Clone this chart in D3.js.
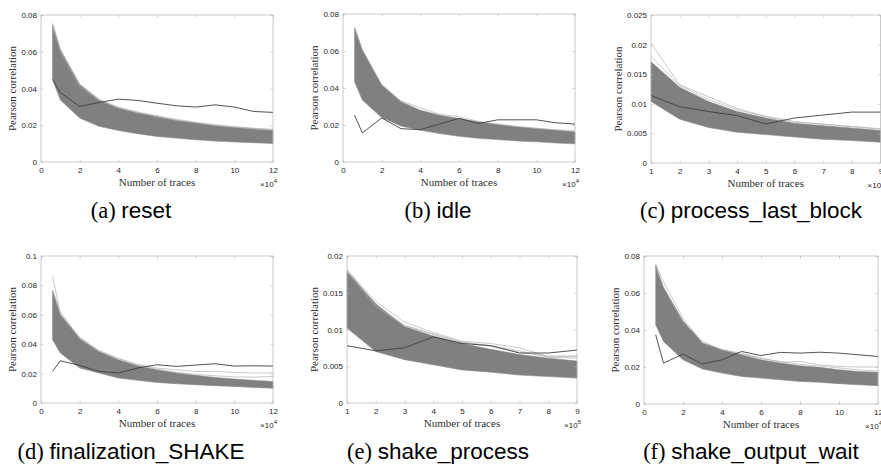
<!DOCTYPE html>
<html>
<head>
<meta charset="utf-8">
<script src="https://cdn.jsdelivr.net/npm/d3@7"></script>
<style>
  body { margin: 0; background: #fff; }
  svg { display: block; }
  .tick text { font-family: "Liberation Sans", Arial, sans-serif; font-size: 8px; fill: #262626; }
  .tick line { stroke: #b4b4b4; stroke-width: 0.6; }
  .axis-label { font-family: "Liberation Serif", "Times New Roman", serif; font-size: 11px; fill: #303030; }
  .caption { font-size: 22.5px; fill: #000; }
</style>
</head>
<body>
<svg id="fig" width="881" height="464"></svg>
<script>
// number of traces, in units of the axis multiplier (x10^4 or x10^5)
const xShort = [0.6, 1, 2, 3, 4, 5, 6, 7, 8, 9, 10, 11, 12];
const xLong = [1, 2, 3, 4, 5, 6, 7, 8, 9];

// (a) reset: envelope of the wrong key guesses, outlier guesses, correct key
const resetUpper = [0.0746, 0.061, 0.042, 0.0338, 0.0293, 0.0266, 0.0248, 0.0226, 0.0212, 0.0197, 0.0188, 0.0179, 0.0172];
const resetLower = [0.0447, 0.0338, 0.0239, 0.0194, 0.0172, 0.0154, 0.0139, 0.013, 0.0121, 0.0114, 0.0109, 0.0105, 0.0101];
const resetOutliers = [
  [0.0755, 0.0615, 0.0425, 0.0342, 0.0298, 0.0272, 0.0252, 0.0232, 0.0216, 0.0203, 0.0193, 0.0184, 0.0178],
  [0.073, 0.06, 0.041, 0.0335, 0.0296, 0.027, 0.0245, 0.0228, 0.0214, 0.02, 0.019, 0.0182, 0.0175]
];
const resetKey = [0.045, 0.0378, 0.0302, 0.0324, 0.0342, 0.0335, 0.032, 0.0306, 0.0299, 0.0311, 0.0299, 0.0275, 0.027];

// (b) idle
const idleUpper = [0.0724, 0.0606, 0.0416, 0.0326, 0.028, 0.0253, 0.0235, 0.0217, 0.0203, 0.019, 0.0181, 0.0172, 0.0163];
const idleLower = [0.0434, 0.0335, 0.024, 0.0194, 0.0172, 0.0154, 0.0139, 0.0128, 0.0121, 0.0114, 0.0109, 0.0103, 0.0098];
const idleOutliers = [
  [0.073, 0.0605, 0.042, 0.033, 0.0293, 0.0258, 0.0245, 0.022, 0.0205, 0.0192, 0.0183, 0.0175, 0.0168]
];
const idleKey = [0.0253, 0.0157, 0.0238, 0.018, 0.0175, 0.0205, 0.0236, 0.0208, 0.0228, 0.0228, 0.0228, 0.0212, 0.0205];

// (c) process_last_block
const plbUpper = [0.0171, 0.0128, 0.0104, 0.0087, 0.0076, 0.0067, 0.0063, 0.0059, 0.0055];
const plbLower = [0.0104, 0.0074, 0.006, 0.0052, 0.0048, 0.0044, 0.004, 0.0038, 0.0035];
const plbOutliers = [
  [0.0202, 0.0132, 0.0112, 0.0092, 0.0079, 0.007, 0.0065, 0.0062, 0.0058],
  [0.018, 0.0131, 0.0107, 0.009, 0.0078, 0.0069, 0.0066, 0.0061, 0.0057]
];
const plbKey = [0.0114, 0.0095, 0.0087, 0.008, 0.0066, 0.0076, 0.0081, 0.0086, 0.0086];

// (d) finalization_SHAKE
const finUpper = [0.0762, 0.060, 0.044, 0.035, 0.0294, 0.0253, 0.0226, 0.0204, 0.0188, 0.0174, 0.0163, 0.0154, 0.0147];
const finLower = [0.043, 0.034, 0.0238, 0.0204, 0.017, 0.0154, 0.014, 0.0131, 0.0124, 0.0118, 0.0113, 0.0106, 0.01];
const finOutliers = [
  [0.086, 0.061, 0.0448, 0.0357, 0.0305, 0.0262, 0.0238, 0.0226, 0.0215, 0.0215, 0.0208, 0.0204, 0.0204],
  [0.077, 0.062, 0.0435, 0.0352, 0.03, 0.0258, 0.023, 0.021, 0.0195, 0.0185, 0.0178, 0.0176, 0.018]
];
const finKey = [0.0215, 0.0287, 0.0256, 0.0215, 0.0204, 0.0238, 0.026, 0.0249, 0.0258, 0.0267, 0.0251, 0.0253, 0.0251];

// (e) shake_process
const spUpper = [0.0179, 0.0135, 0.0104, 0.0091, 0.0081, 0.0073, 0.0066, 0.0061, 0.0057];
const spLower = [0.0102, 0.007, 0.0059, 0.0052, 0.0045, 0.0042, 0.0038, 0.0036, 0.0034];
const spOutliers = [
  [0.0181, 0.0138, 0.011, 0.0096, 0.0084, 0.0081, 0.0075, 0.0063, 0.0063],
  [0.0182, 0.0132, 0.0106, 0.0094, 0.0083, 0.0078, 0.0071, 0.0062, 0.0061],
  [0.0178, 0.0131, 0.0105, 0.0093, 0.0082, 0.0077, 0.0069, 0.0064, 0.0064]
];
const spKey = [0.0078, 0.0071, 0.0075, 0.009, 0.0081, 0.0078, 0.0068, 0.0068, 0.0072];

// (f) shake_output_wait
const sowUpper = [0.075, 0.063, 0.045, 0.033, 0.0293, 0.0266, 0.0239, 0.0221, 0.0207, 0.0198, 0.0185, 0.0176, 0.0171];
const sowLower = [0.0428, 0.0338, 0.0239, 0.0189, 0.0167, 0.0149, 0.014, 0.0131, 0.0122, 0.0117, 0.011, 0.0104, 0.0099];
const sowOutliers = [
  [0.076, 0.066, 0.0464, 0.033, 0.0295, 0.027, 0.025, 0.0225, 0.023, 0.0212, 0.0203, 0.02, 0.02],
  [0.074, 0.063, 0.044, 0.034, 0.029, 0.0275, 0.0245, 0.023, 0.0215, 0.0205, 0.0195, 0.0185, 0.0178]
];
const sowKey = [0.0374, 0.0221, 0.027, 0.0216, 0.0239, 0.0284, 0.0262, 0.0279, 0.0275, 0.028, 0.0275, 0.0266, 0.0257];

// axis settings
const shortDomain = [0, 12], shortTicks = [0, 2, 4, 6, 8, 10, 12];
const longDomain = [1, 9], longTicks = [1, 2, 3, 4, 5, 6, 7, 8, 9];

const panels = [
  { tag: "(a)", name: "reset", x: xShort, xDomain: shortDomain, xTicks: shortTicks, exp: "4",
    yTicks: [0, 0.02, 0.04, 0.06, 0.08], upper: resetUpper, lower: resetLower, outliers: resetOutliers, key: resetKey,
    box: [41, 15, 232, 147], cap: [131, 218] },
  { tag: "(b)", name: "idle", x: xShort, xDomain: shortDomain, xTicks: shortTicks, exp: "4",
    yTicks: [0, 0.02, 0.04, 0.06, 0.08], upper: idleUpper, lower: idleLower, outliers: idleOutliers, key: idleKey,
    box: [343, 14, 232, 148], cap: [438, 218] },
  { tag: "(c)", name: "process_last_block", x: xLong, xDomain: longDomain, xTicks: longTicks, exp: "5",
    yTicks: [0, 0.005, 0.01, 0.015, 0.02, 0.025], upper: plbUpper, lower: plbLower, outliers: plbOutliers, key: plbKey,
    box: [651, 15, 229.5, 148], cap: [751, 218] },
  { tag: "(d)", name: "finalization_SHAKE", x: xShort, xDomain: shortDomain, xTicks: shortTicks, exp: "4",
    yTicks: [0, 0.02, 0.04, 0.06, 0.08, 0.1], upper: finUpper, lower: finLower, outliers: finOutliers, key: finKey,
    box: [41, 256, 232, 147], cap: [131, 459] },
  { tag: "(e)", name: "shake_process", x: xLong, xDomain: longDomain, xTicks: longTicks, exp: "5",
    yTicks: [0, 0.005, 0.01, 0.015, 0.02], upper: spUpper, lower: spLower, outliers: spOutliers, key: spKey,
    box: [347, 256, 230, 147], cap: [438, 459] },
  { tag: "(f)", name: "shake_output_wait", x: xShort, xDomain: shortDomain, xTicks: shortTicks, exp: "4",
    yTicks: [0, 0.02, 0.04, 0.06, 0.08], upper: sowUpper, lower: sowLower, outliers: sowOutliers, key: sowKey,
    box: [644, 256, 234, 148], cap: [751, 459] }
];

const svg = d3.select("#fig");
const fmt = d3.format("~g");

panels.forEach(p => drawPanel(p));

function drawPanel(p) {
  let [left, top, w, h] = p.box;
  let g = svg.append("g").attr("transform", `translate(${left},${top})`);

  let x = d3.scaleLinear().domain(p.xDomain).range([0, w]);
  let y = d3.scaleLinear().domain([0, d3.max(p.yTicks)]).range([h, 0]);

  // wrong key guesses: dense band plus the few that stick out
  let band = p.x.map((v, i) => ({ x: v, lo: p.lower[i], hi: p.upper[i] }));
  g.append("path")
    .datum(band)
    .attr("fill", "#808080")
    .attr("stroke", "#8a8a8a")
    .attr("stroke-width", 0.6)
    .attr("d", d3.area().x(d => x(d.x)).y0(d => y(d.lo)).y1(d => y(d.hi)));

  let line = d3.line().x((d, i) => x(p.x[i])).y(d => y(d));

  g.selectAll("path.outlier")
    .data(p.outliers)
    .enter().append("path")
      .attr("class", "outlier")
      .attr("fill", "none")
      .attr("stroke", "#a8a8a8")
      .attr("stroke-width", 0.6)
      .attr("d", line);

  // correct key
  g.append("path")
    .datum(p.key)
    .attr("fill", "none")
    .attr("stroke", "#404040")
    .attr("stroke-width", 0.9)
    .attr("d", line);

  // axes: inward ticks on all four sides, MATLAB style box
  g.append("g").attr("transform", `translate(0,${h})`)
    .call(d3.axisBottom(x).tickValues(p.xTicks).tickSize(-2.5).tickPadding(5).tickFormat(fmt));
  g.append("g")
    .call(d3.axisTop(x).tickValues(p.xTicks).tickSize(-2.5).tickFormat(""));
  let yl = g.append("g")
    .call(d3.axisLeft(y).tickValues(p.yTicks).tickSize(-2.5).tickPadding(4).tickFormat(fmt));
  g.append("g").attr("transform", `translate(${w},0)`)
    .call(d3.axisRight(y).tickValues(p.yTicks).tickSize(-2.5).tickFormat(""));
  g.selectAll(".domain").remove();

  g.append("rect")
    .attr("width", w).attr("height", h)
    .attr("fill", "none")
    .attr("stroke", "#b4b4b4")
    .attr("stroke-width", 0.7);

  // labels
  g.append("text")
    .attr("class", "axis-label")
    .attr("x", w / 2).attr("y", h + 24)
    .attr("text-anchor", "middle")
    .text("Number of traces");

  let labW = d3.max(yl.selectAll(".tick text").nodes(), n => n.getComputedTextLength());
  g.append("text")
    .attr("class", "axis-label")
    .attr("transform", `translate(${-4 - labW - 5},${h / 2}) rotate(-90)`)
    .attr("text-anchor", "middle")
    .text("Pearson correlation");

  let ex = g.append("text")
    .attr("x", w + 4).attr("y", h + 25)
    .attr("text-anchor", "end")
    .attr("font-family", "Liberation Sans, Arial, sans-serif")
    .attr("font-size", 8)
    .attr("fill", "#262626");
  ex.append("tspan").text("\u00d710");
  ex.append("tspan").attr("dy", -4).attr("font-size", 6).text(p.exp);

  // sub-caption
  let cap = svg.append("text")
    .attr("class", "caption")
    .attr("x", p.cap[0]).attr("y", p.cap[1])
    .attr("text-anchor", "middle");
  cap.append("tspan").attr("font-family", "Liberation Serif, serif").text(p.tag + " ");
  cap.append("tspan").attr("font-family", "Liberation Sans, Arial, sans-serif").text(p.name);
}
</script>
</body>
</html>
